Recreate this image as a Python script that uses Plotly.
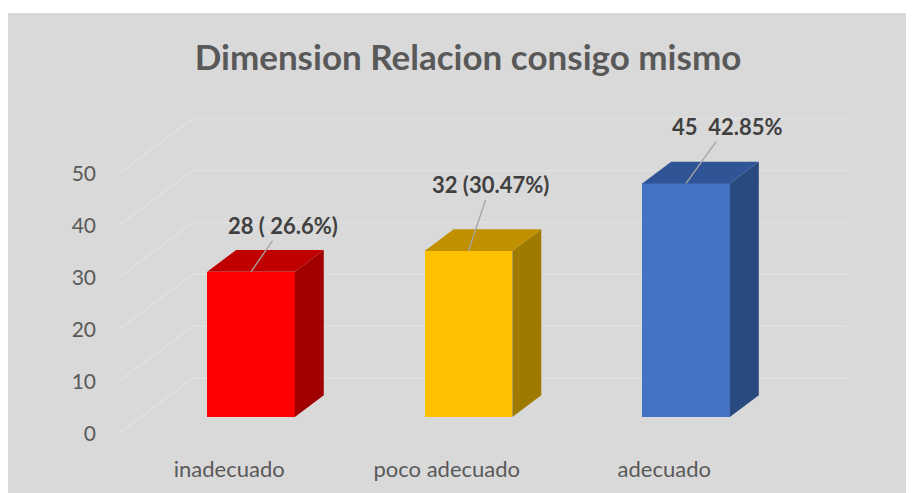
import plotly.graph_objects as go

# ---- data ----
categories = ["inadecuado", "poco adecuado", "adecuado"]
values = [28, 32, 45]
label_texts = ["28 ( 26.6%)", "32 (30.47%)", "45 \u00a042.85%"]
y_ticks = [0, 10, 20, 30, 40, 50]

# ---- style ----
front_colors = ["#FF0000", "#FFC000", "#4472C4"]
top_colors = ["#C00000", "#C09000", "#2F5597"]
side_colors = ["#A00000", "#9E7B00", "#294A7E"]
BG = "#D9D9D9"
GRID = "#E1E1E1"
TXT = "#595959"
FONT = "Lato"

# geometry of the pseudo-3D projection (axis units)
bar_w = 0.403
dx, dy = 0.133, 4.18          # bar depth offset
back_off = 7.5                # back wall offset (y)
front_off = -3.2              # floor front edge offset (y)
x_front = -0.6115
x_back = -0.267
x_end = 2.74

xs = list(range(len(categories)))
fig = go.Figure()

# bars: front faces
fig.add_trace(go.Bar(x=xs, y=values, width=bar_w, marker=dict(color=front_colors, line=dict(width=0)),
                     showlegend=False, hoverinfo="skip"))

# side and top faces
for x, v, sc, tc in zip(xs, values, side_colors, top_colors):
    r = x + bar_w / 2
    l = x - bar_w / 2
    fig.add_trace(go.Scatter(
        x=[r, r + dx, r + dx, r, r], y=[0, dy, v + dy, v, 0],
        fill="toself", fillcolor=sc, mode="lines", line=dict(width=0, color=sc),
        hoverinfo="skip", showlegend=False))
    fig.add_trace(go.Scatter(
        x=[l, l + dx, r + dx, r, l], y=[v, v + dy, v + dy, v, v],
        fill="toself", fillcolor=tc, mode="lines", line=dict(width=0, color=tc),
        hoverinfo="skip", showlegend=False))

# data labels with leader lines
offsets = [(32, -46), (22, -66), (41, -57)]
for x, v, txt, (ax, ay) in zip(xs, values, label_texts, offsets):
    fig.add_annotation(x=x, y=v, text=txt, showarrow=True, arrowhead=0, arrowwidth=1.3,
                       arrowcolor="#A6A6A6", ax=ax, ay=ay, standoff=0,
                       font=dict(family=FONT, size=22, color="#404040", weight="bold"))

W, H = 906, 485
L, R, T, B = 110, 67, 92, 53
PW, PH = W - L - R, H - T - B

shapes = [dict(type="rect", xref="paper", yref="paper", x0=-L / PW, x1=1 + R / PW,
               y0=-B / PH, y1=1 + (T - 5) / PH, fillcolor=BG, line=dict(width=0), layer="below")]
# gridlines (floor diagonals + back wall), built from tick values
for t in y_ticks:
    shapes.append(dict(type="path", xref="x", yref="y", layer="below",
                       path=f"M {x_front},{t + front_off} L {x_back},{t + back_off} L {x_end},{t + back_off}",
                       line=dict(color=GRID, width=1.5)))

fig.update_layout(
    width=W, height=H,
    paper_bgcolor="white", plot_bgcolor=BG,
    margin=dict(l=L, r=R, t=T, b=B),
    title=dict(text="<b>Dimension Relacion consigo mismo</b>", x=460 / W, xanchor="center",
               y=1 - 50 / H, yanchor="middle",
               font=dict(family=FONT, size=35, color=TXT)),
    bargap=0,
    shapes=shapes,
)
fig.update_xaxes(range=[x_front, x_end], tickvals=[x - 0.1 for x in xs], ticktext=categories,
                 showgrid=False, zeroline=False, showline=False, ticks="",
                 ticklabelstandoff=14, tickfont=dict(family=FONT, size=22, color=TXT))
fig.update_yaxes(range=[-4.43, 61.08], tickvals=[t + front_off for t in y_ticks], ticktext=[str(t) for t in y_ticks],
                 showgrid=False, zeroline=False, showline=False, ticks="",
                 ticklabelstandoff=21, tickfont=dict(family=FONT, size=21, color=TXT))

fig.write_html("out.html")
